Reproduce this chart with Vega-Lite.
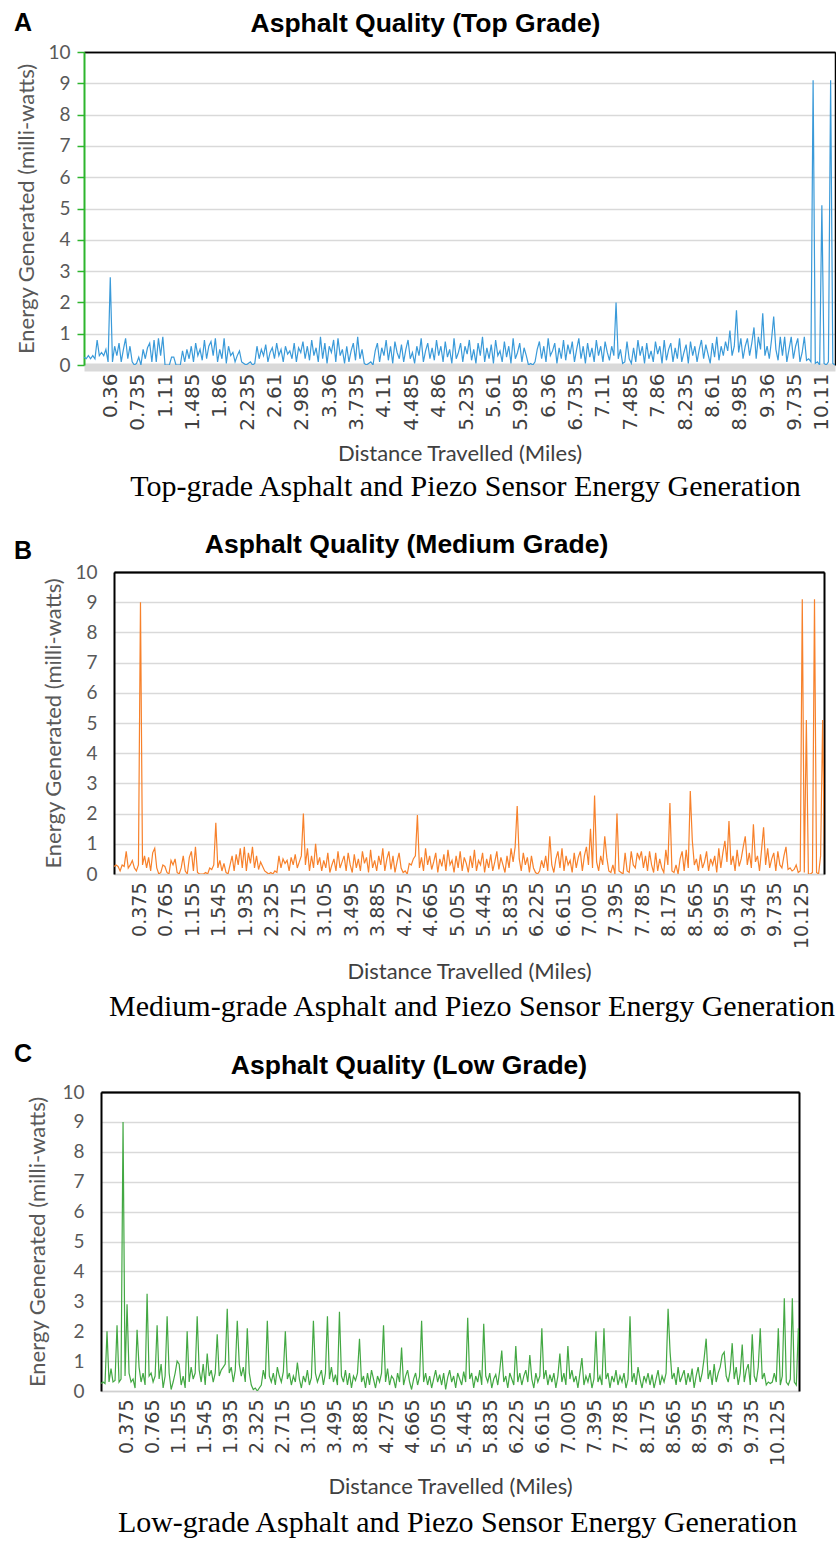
{
"$schema": "https://vega.github.io/schema/vega-lite/v6.json",
"padding": {"left": 14, "top": 10, "right": 0, "bottom": 0},
"background": "white",
"spacing": 28,
"config": {
 "view": {"stroke": null},
 "title": {"font": "Liberation Sans", "fontSize": 26.5, "fontWeight": "bold", "color": "black", "anchor": "middle", "frame": "bounds"},
 "axisX": {"labelFont": "DejaVu Sans", "labelFontSize": 19, "labelColor": "#404040", "labelAngle": -90, "labelOverlap": false, "labelFlush": false, "labelBound": false, "ticks": false, "grid": false, "titleFont": "Lato", "titleFontSize": 22, "titleFontWeight": "normal", "titleColor": "#404040", "titlePadding": 12},
 "axisY": {"labelFont": "Lato", "labelFontSize": 19, "labelColor": "#595959", "titleFont": "Lato", "titleFontSize": 22, "titleFontWeight": "normal", "titleColor": "#595959", "titlePadding": 9, "grid": true, "gridWidth": 1.5}
},
"data": {"values": [
{"d":0,"a":0.25,"b":0.25,"c":0.25},{"d":0.03,"a":0.2,"b":0.3,"c":0.3},{"d":0.06,"a":0.3,"b":0.25,"c":0.25},{"d":0.09,"a":0.2,"b":0.1,"c":2.0},{"d":0.12,"a":0.3,"b":0.3,"c":0.3},{"d":0.15,"a":0.2,"b":0.25,"c":0.75},{"d":0.18,"a":0.8,"b":0.75,"c":0.3},{"d":0.21,"a":0.3,"b":0.2,"c":0.35},{"d":0.24,"a":0.4,"b":0.3,"c":2.2},{"d":0.27,"a":0.3,"b":0.45,"c":0.3},
{"d":0.3,"a":0.5,"b":0.2,"c":0.4},{"d":0.33,"a":0.1,"b":0.1,"c":9.0},{"d":0.36,"a":2.8,"b":0.3,"c":0.5},{"d":0.39,"a":0.1,"b":9.0,"c":2.9},{"d":0.42,"a":0.6,"b":0.3,"c":0.6},{"d":0.45,"a":0.3,"b":0.6,"c":0.3},{"d":0.48,"a":0.7,"b":0.2,"c":0.4},{"d":0.51,"a":0.1,"b":0.55,"c":0.1},{"d":0.54,"a":0.5,"b":0.1,"c":2.05},{"d":0.57,"a":0.85,"b":0.7,"c":0.8},
{"d":0.6,"a":0.2,"b":0.85,"c":0.3},{"d":0.63,"a":0.6,"b":0.2,"c":0.6},{"d":0.66,"a":0.1,"b":0,"c":0.2},{"d":0.69,"a":0,"b":0.05,"c":3.25},{"d":0.72,"a":0.05,"b":0.3,"c":0.5},{"d":0.75,"a":0.25,"b":0.25,"c":0.6},{"d":0.78,"a":0,"b":0.05,"c":0.3},{"d":0.81,"a":0.5,"b":0,"c":0.5},{"d":0.84,"a":0.2,"b":0.45,"c":2.2},{"d":0.87,"a":0.55,"b":0.3,"c":0.4},
{"d":0.9,"a":0.7,"b":0.5,"c":0.9},{"d":0.93,"a":0.1,"b":0.05,"c":0.1},{"d":0.96,"a":0.8,"b":0,"c":0.5},{"d":0.99,"a":0.1,"b":0.2,"c":2.5},{"d":1.02,"a":0.85,"b":0.6,"c":0.6},{"d":1.05,"a":0.3,"b":0.1,"c":0.05},{"d":1.08,"a":0.9,"b":0,"c":0.3},{"d":1.11,"a":0,"b":0.55,"c":0.6},{"d":1.14,"a":0,"b":0.75,"c":1.0},{"d":1.17,"a":0,"b":0.1,"c":0.9},
{"d":1.2,"a":0.25,"b":0.9,"c":0.2},{"d":1.23,"a":0.25,"b":0.05,"c":0.5},{"d":1.26,"a":0,"b":0,"c":0.1},{"d":1.29,"a":0,"b":0,"c":2.0},{"d":1.32,"a":0,"b":0,"c":0.3},{"d":1.35,"a":0.45,"b":0.05,"c":0.8},{"d":1.38,"a":0.1,"b":0,"c":0.4},{"d":1.41,"a":0.5,"b":0.2,"c":0.6},{"d":1.44,"a":0.2,"b":0.15,"c":2.5},{"d":1.47,"a":0.6,"b":0.3,"c":0.7},
{"d":1.5,"a":0.1,"b":1.7,"c":0.3},{"d":1.53,"a":0.7,"b":0.2,"c":0.9},{"d":1.56,"a":0.3,"b":0.45,"c":0.2},{"d":1.59,"a":0.5,"b":0.1,"c":1.25},{"d":1.62,"a":0.15,"b":0.35,"c":0.5},{"d":1.65,"a":0.8,"b":0.05,"c":0.7},{"d":1.68,"a":0.2,"b":0,"c":0.3},{"d":1.71,"a":0.6,"b":0.3,"c":0.6},{"d":1.74,"a":0.75,"b":0.6,"c":1.9},{"d":1.77,"a":0.3,"b":0.1,"c":0.5},
{"d":1.8,"a":0.85,"b":0.65,"c":0.7},{"d":1.83,"a":0.1,"b":0.3,"c":0.8},{"d":1.86,"a":0.5,"b":0.85,"c":0.9},{"d":1.89,"a":0.2,"b":0.2,"c":2.75},{"d":1.92,"a":0.85,"b":0.9,"c":0.6},{"d":1.95,"a":0.05,"b":0.1,"c":0.8},{"d":1.98,"a":0.6,"b":0.7,"c":0.3},{"d":2.01,"a":0.3,"b":0.35,"c":0.7},{"d":2.04,"a":0.4,"b":0.9,"c":2.35},{"d":2.07,"a":0.1,"b":0.2,"c":0.9},
{"d":2.1,"a":0.3,"b":0.6,"c":0.5},{"d":2.13,"a":0.45,"b":0.15,"c":0.8},{"d":2.16,"a":0.1,"b":0.4,"c":0.3},{"d":2.19,"a":0.05,"b":0.25,"c":2.1},{"d":2.22,"a":0,"b":0.1,"c":0.6},{"d":2.25,"a":0.05,"b":0.05,"c":0.2},{"d":2.28,"a":0.1,"b":0,"c":0.05},{"d":2.31,"a":0,"b":0.05,"c":0.1},{"d":2.34,"a":0.05,"b":0,"c":0},{"d":2.37,"a":0.6,"b":0.1,"c":0.1},
{"d":2.4,"a":0.2,"b":0.05,"c":0.2},{"d":2.43,"a":0.5,"b":0.6,"c":0.7},{"d":2.46,"a":0.3,"b":0.2,"c":0.4},{"d":2.49,"a":0.65,"b":0.5,"c":2.35},{"d":2.52,"a":0.1,"b":0.35,"c":0.5},{"d":2.55,"a":0.4,"b":0.45,"c":0.3},{"d":2.58,"a":0.55,"b":0.1,"c":0.6},{"d":2.61,"a":0.2,"b":0.55,"c":0.2},{"d":2.64,"a":0.7,"b":0.3,"c":0.8},{"d":2.67,"a":0.3,"b":0.65,"c":0.5},
{"d":2.7,"a":0.5,"b":0.2,"c":0.3},{"d":2.73,"a":0.1,"b":0.4,"c":0.65},{"d":2.76,"a":0.6,"b":0.6,"c":2.0},{"d":2.79,"a":0.35,"b":2.0,"c":0.4},{"d":2.82,"a":0.45,"b":0.3,"c":0.6},{"d":2.85,"a":0.2,"b":0.85,"c":0.2},{"d":2.88,"a":0.7,"b":0.1,"c":0.5},{"d":2.91,"a":0.1,"b":0.6,"c":0.3},{"d":2.94,"a":0.55,"b":0.2,"c":0.95},{"d":2.97,"a":0.4,"b":1.0,"c":0.4},
{"d":3.0,"a":0.75,"b":0.3,"c":0.1},{"d":3.03,"a":0.2,"b":0.55,"c":0.5},{"d":3.06,"a":0.6,"b":0.1,"c":0.3},{"d":3.09,"a":0.15,"b":0.45,"c":0.7},{"d":3.12,"a":0.8,"b":0.2,"c":0.2},{"d":3.15,"a":0.3,"b":0.7,"c":0.45},{"d":3.18,"a":0.55,"b":0.05,"c":2.35},{"d":3.21,"a":0.1,"b":0.3,"c":0.6},{"d":3.24,"a":0.9,"b":0.5,"c":0.3},{"d":3.27,"a":0.2,"b":0.1,"c":0.5},
{"d":3.3,"a":0.7,"b":0.75,"c":0.7},{"d":3.33,"a":0.05,"b":0.2,"c":0.2},{"d":3.36,"a":0.6,"b":0.4,"c":0.6},{"d":3.39,"a":0.4,"b":0.6,"c":2.5},{"d":3.42,"a":0.8,"b":0.1,"c":0.4},{"d":3.45,"a":0.1,"b":0.7,"c":0.8},{"d":3.48,"a":0.85,"b":0.3,"c":0.3},{"d":3.51,"a":0.3,"b":0.05,"c":0.55},{"d":3.54,"a":0.5,"b":0.65,"c":0.2},{"d":3.57,"a":0.05,"b":0.2,"c":2.65},
{"d":3.6,"a":0.6,"b":0.5,"c":0.5},{"d":3.63,"a":0.1,"b":0.1,"c":0.3},{"d":3.66,"a":0.45,"b":0.75,"c":0.7},{"d":3.69,"a":0.7,"b":0.35,"c":0.2},{"d":3.72,"a":0.15,"b":0.55,"c":0.6},{"d":3.75,"a":0.9,"b":0.05,"c":0.1},{"d":3.78,"a":0.2,"b":0.8,"c":0.5},{"d":3.81,"a":0.5,"b":0.2,"c":0.35},{"d":3.84,"a":0.05,"b":0.45,"c":0.6},{"d":3.87,"a":0,"b":0.1,"c":1.75},
{"d":3.9,"a":0.05,"b":0.6,"c":0.3},{"d":3.93,"a":0.1,"b":0.3,"c":0.5},{"d":3.96,"a":0,"b":0.85,"c":0.1},{"d":3.99,"a":0.45,"b":0.1,"c":0.6},{"d":4.02,"a":0.7,"b":0.5,"c":0.2},{"d":4.05,"a":0.1,"b":0.75,"c":0.7},{"d":4.08,"a":0.55,"b":0.15,"c":0.4},{"d":4.11,"a":0.3,"b":0.6,"c":0.1},{"d":4.14,"a":0.8,"b":0.05,"c":0.5},{"d":4.17,"a":0.15,"b":0.4,"c":0.3},
{"d":4.2,"a":0.6,"b":0.7,"c":0.6},{"d":4.23,"a":0.05,"b":0.2,"c":2.2},{"d":4.26,"a":0.75,"b":0.05,"c":0.3},{"d":4.29,"a":0.4,"b":0.1,"c":0.75},{"d":4.32,"a":0.2,"b":0,"c":0.2},{"d":4.35,"a":0.65,"b":0.35,"c":0.5},{"d":4.38,"a":0.1,"b":0.3,"c":0.4},{"d":4.41,"a":0.5,"b":0.5,"c":0.1},{"d":4.44,"a":0.8,"b":0.6,"c":0.6},{"d":4.47,"a":0.2,"b":1.95,"c":0.3},
{"d":4.5,"a":0.4,"b":0.2,"c":1.45},{"d":4.53,"a":0.05,"b":0.55,"c":0.2},{"d":4.56,"a":0.6,"b":0.1,"c":0.5},{"d":4.59,"a":0.3,"b":0.85,"c":0.7},{"d":4.62,"a":0.85,"b":0.3,"c":0.3},{"d":4.65,"a":0.1,"b":0.6,"c":0.05},{"d":4.68,"a":0.45,"b":0.15,"c":0.4},{"d":4.71,"a":0.7,"b":0.4,"c":0.6},{"d":4.74,"a":0.2,"b":0.7,"c":0.2},{"d":4.77,"a":0.55,"b":0.05,"c":0.5},
{"d":4.8,"a":0.15,"b":0.5,"c":2.35},{"d":4.83,"a":0.8,"b":0.25,"c":0.3},{"d":4.86,"a":0.3,"b":0.65,"c":0.6},{"d":4.89,"a":0.6,"b":0.1,"c":0.2},{"d":4.92,"a":0.1,"b":0.8,"c":0.5},{"d":4.95,"a":0.75,"b":0.3,"c":0.1},{"d":4.98,"a":0.25,"b":0.45,"c":0.4},{"d":5.01,"a":0.5,"b":0.05,"c":0.7},{"d":5.04,"a":0.05,"b":0.6,"c":0.3},{"d":5.07,"a":0.85,"b":0.2,"c":0.55},
{"d":5.1,"a":0.2,"b":0.75,"c":0.2},{"d":5.13,"a":0.4,"b":0.1,"c":0.6},{"d":5.16,"a":0.7,"b":0.55,"c":0.05},{"d":5.19,"a":0.1,"b":0.35,"c":0.45},{"d":5.22,"a":0.6,"b":0.05,"c":0.7},{"d":5.25,"a":0.35,"b":0.6,"c":0.3},{"d":5.28,"a":0.8,"b":0.2,"c":0.5},{"d":5.31,"a":0.15,"b":0.8,"c":0.1},{"d":5.34,"a":0.5,"b":0.1,"c":0.6},{"d":5.37,"a":0.05,"b":0.45,"c":0.4},
{"d":5.4,"a":0.7,"b":0.3,"c":0.2},{"d":5.43,"a":0.3,"b":0.7,"c":0.65},{"d":5.46,"a":0.9,"b":0.05,"c":0.3},{"d":5.49,"a":0.1,"b":0.5,"c":2.45},{"d":5.52,"a":0.55,"b":0.2,"c":0.4},{"d":5.55,"a":0.2,"b":0.65,"c":0.6},{"d":5.58,"a":0.65,"b":0.1,"c":0.1},{"d":5.61,"a":0.05,"b":0.4,"c":0.5},{"d":5.64,"a":0.8,"b":0.75,"c":0.3},{"d":5.67,"a":0.3,"b":0.15,"c":0.7},
{"d":5.7,"a":0.45,"b":0.55,"c":0.2},{"d":5.73,"a":0.1,"b":0.3,"c":2.25},{"d":5.76,"a":0.75,"b":0.05,"c":0.5},{"d":5.79,"a":0.25,"b":0.6,"c":0.3},{"d":5.82,"a":0.6,"b":0.2,"c":0.6},{"d":5.85,"a":0.05,"b":0.85,"c":0.1},{"d":5.88,"a":0.85,"b":0.4,"c":0.4},{"d":5.91,"a":0.2,"b":0.9,"c":0.55},{"d":5.94,"a":0.4,"b":2.25,"c":0.2},{"d":5.97,"a":0.7,"b":0.5,"c":0.7},
{"d":6.0,"a":0.1,"b":0.1,"c":1.35},{"d":6.03,"a":0.55,"b":0.7,"c":0.3},{"d":6.06,"a":0.3,"b":0.3,"c":0.5},{"d":6.09,"a":0,"b":0.55,"c":0.1},{"d":6.12,"a":0.05,"b":0.05,"c":0.6},{"d":6.15,"a":0,"b":0.6,"c":0.4},{"d":6.18,"a":0.1,"b":0.2,"c":0.2},{"d":6.21,"a":0.5,"b":0.05,"c":1.5},{"d":6.24,"a":0.75,"b":0,"c":0.3},{"d":6.27,"a":0.2,"b":0.1,"c":0.6},
{"d":6.3,"a":0.6,"b":0.45,"c":0.2},{"d":6.33,"a":0.1,"b":0.2,"c":0.5},{"d":6.36,"a":0.85,"b":0.6,"c":0.7},{"d":6.39,"a":0.3,"b":0.1,"c":0.3},{"d":6.42,"a":0.45,"b":1.25,"c":1.2},{"d":6.45,"a":0.7,"b":0.3,"c":0.4},{"d":6.48,"a":0.05,"b":0.05,"c":0.1},{"d":6.51,"a":0.55,"b":0.5,"c":0.6},{"d":6.54,"a":0.2,"b":0.75,"c":0.3},{"d":6.57,"a":0.8,"b":0.2,"c":0.5},
{"d":6.6,"a":0.15,"b":0.85,"c":2.1},{"d":6.63,"a":0.65,"b":0.1,"c":0.4},{"d":6.66,"a":0.35,"b":0.6,"c":0.7},{"d":6.69,"a":0.75,"b":0.3,"c":0.2},{"d":6.72,"a":0.1,"b":0.45,"c":0.55},{"d":6.75,"a":0.5,"b":0.05,"c":0.3},{"d":6.78,"a":0.85,"b":0.7,"c":0.6},{"d":6.81,"a":0.2,"b":0.2,"c":0.1},{"d":6.84,"a":0.6,"b":0.55,"c":0.5},{"d":6.87,"a":0.05,"b":0.75,"c":1.25},
{"d":6.9,"a":0.7,"b":0.1,"c":0.3},{"d":6.93,"a":0.25,"b":0.6,"c":0.6},{"d":6.96,"a":0.55,"b":0.9,"c":0.2},{"d":6.99,"a":0.1,"b":0.3,"c":1.5},{"d":7.02,"a":0.8,"b":1.5,"c":0.4},{"d":7.05,"a":0.3,"b":0.2,"c":0.7},{"d":7.08,"a":0.6,"b":2.6,"c":0.3},{"d":7.11,"a":0.1,"b":0.4,"c":0.5},{"d":7.14,"a":0.75,"b":0.1,"c":0.1},{"d":7.17,"a":0.4,"b":0.6,"c":0.6},
{"d":7.2,"a":0.15,"b":0.3,"c":1.1},{"d":7.23,"a":0.6,"b":1.25,"c":0.2},{"d":7.26,"a":0.3,"b":0.55,"c":0.5},{"d":7.29,"a":2.0,"b":0.1,"c":0.3},{"d":7.32,"a":0.2,"b":0.05,"c":0.6},{"d":7.35,"a":0.5,"b":0.3,"c":0.1},{"d":7.38,"a":0.05,"b":0,"c":0.4},{"d":7.41,"a":0.1,"b":2.0,"c":2.0},{"d":7.44,"a":0.75,"b":0.1,"c":0.3},{"d":7.47,"a":0.2,"b":0.05,"c":0.5},
{"d":7.5,"a":0.05,"b":0,"c":0.2},{"d":7.53,"a":0.55,"b":0.7,"c":2.1},{"d":7.56,"a":0.1,"b":0.1,"c":0.4},{"d":7.59,"a":0.8,"b":0.05,"c":0.6},{"d":7.62,"a":0.3,"b":0.75,"c":0.1},{"d":7.65,"a":0.6,"b":0.3,"c":0.5},{"d":7.68,"a":0.05,"b":0.2,"c":0.3},{"d":7.71,"a":0.7,"b":0.7,"c":0.7},{"d":7.74,"a":0.2,"b":0.5,"c":0.2},{"d":7.77,"a":0.45,"b":0.75,"c":0.5},
{"d":7.8,"a":0.1,"b":0.2,"c":0.3},{"d":7.83,"a":0.75,"b":0.6,"c":0.6},{"d":7.86,"a":0.35,"b":0.1,"c":0.1},{"d":7.89,"a":0.6,"b":0.75,"c":0.4},{"d":7.92,"a":0.05,"b":0.3,"c":2.5},{"d":7.95,"a":0.8,"b":0.05,"c":0.3},{"d":7.98,"a":0.15,"b":0.7,"c":0.6},{"d":8.01,"a":0.5,"b":0.1,"c":0.2},{"d":8.04,"a":0.7,"b":0.5,"c":0.8},{"d":8.07,"a":0.1,"b":0.2,"c":0.4},
{"d":8.1,"a":0.55,"b":0.05,"c":0.1},{"d":8.13,"a":0.2,"b":0.8,"c":0.5},{"d":8.16,"a":0.85,"b":0.3,"c":0.3},{"d":8.19,"a":0.1,"b":2.35,"c":0.6},{"d":8.22,"a":0.4,"b":0.1,"c":0.2},{"d":8.25,"a":0.65,"b":0.05,"c":0.55},{"d":8.28,"a":0.05,"b":0.3,"c":0.1},{"d":8.31,"a":0.75,"b":0,"c":0.4},{"d":8.34,"a":0.3,"b":0.5,"c":0.7},{"d":8.37,"a":0.6,"b":0.75,"c":0.2},
{"d":8.4,"a":0.1,"b":0.1,"c":0.5},{"d":8.43,"a":0.5,"b":0.8,"c":0.3},{"d":8.46,"a":0.8,"b":0.2,"c":0.6},{"d":8.49,"a":0.2,"b":2.75,"c":2.75},{"d":8.52,"a":0.65,"b":1.1,"c":1.3},{"d":8.55,"a":0.35,"b":0.3,"c":0.4},{"d":8.58,"a":0.05,"b":0.5,"c":0.6},{"d":8.61,"a":0.7,"b":0.1,"c":0.2},{"d":8.64,"a":0.25,"b":0.65,"c":0.8},{"d":8.67,"a":0.9,"b":0.2,"c":0.3},
{"d":8.7,"a":0.15,"b":0.4,"c":0.5},{"d":8.73,"a":0.6,"b":0.75,"c":0.7},{"d":8.76,"a":0.3,"b":0.1,"c":0.2},{"d":8.79,"a":0.75,"b":0.5,"c":0.6},{"d":8.82,"a":0.45,"b":0.3,"c":0.3},{"d":8.85,"a":1.1,"b":0.6,"c":0.75},{"d":8.88,"a":0.3,"b":0.05,"c":0.1},{"d":8.91,"a":0.6,"b":0.85,"c":0.5},{"d":8.94,"a":1.75,"b":0.2,"c":0.8},{"d":8.97,"a":0.4,"b":0.7,"c":0.3},
{"d":9.0,"a":0.85,"b":1.1,"c":0.6},{"d":9.03,"a":0.2,"b":0.4,"c":1.1},{"d":9.06,"a":0.6,"b":1.75,"c":1.75},{"d":9.09,"a":0.85,"b":0.3,"c":0.4},{"d":9.12,"a":0.3,"b":0.6,"c":0.7},{"d":9.15,"a":0.7,"b":0.1,"c":0.2},{"d":9.18,"a":1.2,"b":0.8,"c":0.9},{"d":9.21,"a":0.2,"b":0.25,"c":0.3},{"d":9.24,"a":0.9,"b":0.5,"c":0.6},{"d":9.27,"a":0.5,"b":0.9,"c":0.8},
{"d":9.3,"a":1.65,"b":1.25,"c":1.2},{"d":9.33,"a":0.3,"b":0.3,"c":1.3},{"d":9.36,"a":0.6,"b":0.7,"c":0.5},{"d":9.39,"a":0.2,"b":0.2,"c":0.3},{"d":9.42,"a":0.8,"b":1.65,"c":0.7},{"d":9.45,"a":1.55,"b":0.4,"c":1.6},{"d":9.48,"a":0.5,"b":0.6,"c":0.4},{"d":9.51,"a":0.15,"b":0.1,"c":0.8},{"d":9.54,"a":0.9,"b":0.8,"c":0.2},{"d":9.57,"a":0.3,"b":1.55,"c":0.6},
{"d":9.6,"a":0.9,"b":0.3,"c":1.55},{"d":9.63,"a":0.1,"b":0.85,"c":0.3},{"d":9.66,"a":0.5,"b":0.2,"c":0.7},{"d":9.69,"a":0.9,"b":0.5,"c":0.9},{"d":9.72,"a":0.2,"b":0.7,"c":0.2},{"d":9.75,"a":0.6,"b":0.1,"c":1.9},{"d":9.78,"a":0.85,"b":0.75,"c":0.5},{"d":9.81,"a":0.1,"b":0.3,"c":0.3},{"d":9.84,"a":0.4,"b":0.2,"c":0.8},{"d":9.87,"a":0.9,"b":0.6,"c":2.1},
{"d":9.9,"a":0.15,"b":0.9,"c":0.4},{"d":9.93,"a":0.2,"b":0.15,"c":0.6},{"d":9.96,"a":0.1,"b":0.2,"c":0.2},{"d":9.99,"a":9.1,"b":0.1,"c":0.3},{"d":10.02,"a":0.05,"b":0.15,"c":0.25},{"d":10.05,"a":0.1,"b":0.3,"c":0.3},{"d":10.08,"a":0,"b":0.05,"c":0.6},{"d":10.11,"a":5.1,"b":0.1,"c":0.3},{"d":10.14,"a":0.05,"b":9.1,"c":2.1},{"d":10.17,"a":0,"b":0.05,"c":0.2},
{"d":10.2,"a":0.1,"b":5.1,"c":0.5},{"d":10.23,"a":9.1,"b":0,"c":3.1},{"d":10.26,"a":0.05,"b":0,"c":0.3},{"d":10.29,"a":0,"b":0.05,"c":0.2},{"d":10.32,"a":0,"b":9.1,"c":0.4},{"d":10.35,"a":0,"b":0.05,"c":3.1},{"d":10.38,"a":0,"b":0,"c":0.3},{"d":10.41,"a":0,"b":0.6,"c":0.2},{"d":10.44,"a":0,"b":5.1,"c":2.1},{"d":10.47,"a":0,"b":0,"c":0.3}
]},
"vconcat": [
 {
  "title": {"text": "Top-grade Asphalt and Piezo Sensor Energy Generation", "orient": "bottom", "anchor": "middle", "frame": "bounds", "font": "Liberation Serif", "fontSize": 30, "fontWeight": "normal", "color": "black", "offset": 8, "dx": 41},
  "hconcat": [
   {"width": 1, "height": 1, "data": {"values": []}, "mark": "point",
    "title": {"text": "A", "anchor": "start", "frame": "group", "fontSize": 25, "offset": 16}},
   {
    "width": 751, "height": 313,
    "title": {"text": "Asphalt Quality (Top Grade)", "offset": 6},
    "layer": [
     {"mark": {"type": "line", "color": "#3a9ad9", "strokeWidth": 1.2, "clip": true},
      "encoding": {
       "x": {"field": "d", "type": "quantitative", "scale": {"domain": [0, 10.29], "nice": false, "zero": false},
        "axis": {"values": [0.36,0.735,1.11,1.485,1.86,2.235,2.61,2.985,3.36,3.735,4.11,4.485,4.86,5.235,5.61,5.985,6.36,6.735,7.11,7.485,7.86,8.235,8.61,8.985,9.36,9.735,10.11], "format": ".4~f", "labelFontSize": 20, "domainColor": "#d9d9d9", "domainWidth": 8, "offset": 2, "labelPadding": 6, "titlePadding": 13, "title": "Distance Travelled  (Miles)"}},
       "y": {"field": "a", "type": "quantitative", "scale": {"domain": [0, 10], "nice": false},
        "axis": {"values": [0,1,2,3,4,5,6,7,8,9,10], "title": "Energy Generated  (milli-watts)", "domainColor": "#2db52d", "domainWidth": 2, "ticks": true, "tickColor": "#2db52d", "tickWidth": 1.5, "tickSize": 7, "labelPadding": 7, "gridColor": {"condition": {"test": "datum.value === 10", "value": "black"}, "value": "#d9d9d9"}}}
      }},
     {"mark": {"type": "line", "opacity": 0, "clip": true},
      "encoding": {
       "x": {"field": "d", "type": "quantitative", "axis": {"orient": "top", "labels": false, "ticks": false, "grid": false, "title": null, "domainColor": "black", "domainWidth": 1.5}},
       "y": {"field": "a", "type": "quantitative", "axis": {"orient": "right", "labels": false, "ticks": false, "grid": false, "title": null, "domainColor": "black", "domainWidth": 1.5}}
      }}
    ],
    "resolve": {"axis": {"x": "independent", "y": "independent"}}
   }
  ],
  "spacing": -18,
  "align": "each"
 },
 {
  "vconcat": [
   {
    "title": {"text": "Medium-grade Asphalt and Piezo Sensor Energy Generation", "orient": "bottom", "anchor": "middle", "frame": "bounds", "font": "Liberation Serif", "fontSize": 30, "fontWeight": "normal", "color": "black", "offset": 10, "dx": 53},
    "hconcat": [
     {"width": 1, "height": 1, "data": {"values": []}, "mark": "point",
      "title": {"text": "B", "anchor": "start", "frame": "group", "fontSize": 25, "offset": 8}},
     {
      "width": 710, "height": 302,
      "title": {"text": "Asphalt Quality (Medium Grade)", "offset": 5, "dx": -27},
      "layer": [
       {"mark": {"type": "line", "color": "#f7812b", "strokeWidth": 1.2, "clip": true},
        "encoding": {
         "x": {"field": "d", "type": "quantitative", "scale": {"domain": [0, 10.46], "nice": false, "zero": false},
          "axis": {"values": [0.375,0.765,1.155,1.545,1.935,2.325,2.715,3.105,3.495,3.885,4.275,4.665,5.055,5.445,5.835,6.225,6.615,7.005,7.395,7.785,8.175,8.565,8.955,9.345,9.735,10.125], "format": ".4~f", "domainColor": "#d0d0d0", "domainWidth": 1.5, "labelPadding": 8, "titlePadding": 13, "title": "Distance Travelled  (Miles)"}},
         "y": {"field": "b", "type": "quantitative", "scale": {"domain": [0, 10], "nice": false},
          "axis": {"values": [0,1,2,3,4,5,6,7,8,9,10], "title": "Energy Generated  (milli-watts)", "domainColor": "black", "domainWidth": 2, "ticks": false, "labelPadding": 17, "gridColor": {"condition": {"test": "datum.value === 10", "value": "black"}, "value": "#d9d9d9"}}}
        }},
       {"mark": {"type": "line", "opacity": 0, "clip": true},
        "encoding": {
         "x": {"field": "d", "type": "quantitative", "axis": {"orient": "top", "labels": false, "ticks": false, "grid": false, "title": null, "domainColor": "black", "domainWidth": 2}},
         "y": {"field": "b", "type": "quantitative", "axis": {"orient": "right", "labels": false, "ticks": false, "grid": false, "title": null, "domainColor": "black", "domainWidth": 2}}
        }}
      ],
      "resolve": {"axis": {"x": "independent", "y": "independent"}}
     }
    ],
    "spacing": 9,
    "align": "each"
   },
   {
    "title": {"text": "Low-grade Asphalt and Piezo Sensor Energy Generation", "orient": "bottom", "anchor": "middle", "frame": "bounds", "font": "Liberation Serif", "fontSize": 30, "fontWeight": "normal", "color": "black", "offset": 11, "dx": 51},
    "hconcat": [
     {"width": 1, "height": 1, "data": {"values": []}, "mark": "point",
      "title": {"text": "C", "anchor": "start", "frame": "group", "fontSize": 25, "offset": 25}},
     {
      "width": 698, "height": 299,
      "title": {"text": "Asphalt Quality (Low Grade)", "offset": 4, "dx": -4},
      "layer": [
       {"mark": {"type": "line", "color": "#43a843", "strokeWidth": 1.2, "clip": true},
        "encoding": {
         "x": {"field": "d", "type": "quantitative", "scale": {"domain": [0, 10.45], "nice": false, "zero": false},
          "axis": {"values": [0.375,0.765,1.155,1.545,1.935,2.325,2.715,3.105,3.495,3.885,4.275,4.665,5.055,5.445,5.835,6.225,6.615,7.005,7.395,7.785,8.175,8.565,8.955,9.345,9.735,10.125], "format": ".4~f", "domainColor": "#d0d0d0", "domainWidth": 1.5, "labelPadding": 8, "titlePadding": 11, "title": "Distance Travelled  (Miles)"}},
         "y": {"field": "c", "type": "quantitative", "scale": {"domain": [0, 10], "nice": false},
          "axis": {"values": [0,1,2,3,4,5,6,7,8,9,10], "title": "Energy Generated  (milli-watts)", "domainColor": "black", "domainWidth": 2, "ticks": false, "labelPadding": 17, "titlePadding": 12, "gridColor": {"condition": {"test": "datum.value === 10", "value": "black"}, "value": "#d9d9d9"}}}
        }},
       {"mark": {"type": "line", "opacity": 0, "clip": true},
        "encoding": {
         "x": {"field": "d", "type": "quantitative", "axis": {"orient": "top", "labels": false, "ticks": false, "grid": false, "title": null, "domainColor": "black", "domainWidth": 2}},
         "y": {"field": "c", "type": "quantitative", "axis": {"orient": "right", "labels": false, "ticks": false, "grid": false, "title": null, "domainColor": "black", "domainWidth": 2}}
        }}
      ],
      "resolve": {"axis": {"x": "independent", "y": "independent"}}
     }
    ],
    "spacing": -7,
    "align": "each"
   }
  ],
  "spacing": 19
 }
]
}
